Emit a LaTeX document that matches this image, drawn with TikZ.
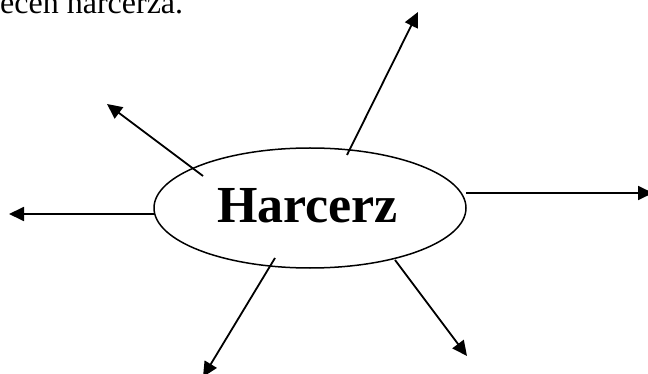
\documentclass[tikz,border=0pt]{standalone}
\usepackage{fontspec}
\setmainfont{Liberation Serif}
\usetikzlibrary{arrows.meta,shapes.geometric}
\tikzset{
  arr/.style={line width=1.8pt,-{Triangle[length=15pt,width=14pt]}},
  bubble/.style={draw,ellipse,line width=1.5pt,minimum width=312pt,minimum height=120pt,inner sep=0pt}
}
\begin{document}
\begin{tikzpicture}[x=1pt,y=-1pt]
\useasboundingbox (0,0) rectangle (648,374);
\node[bubble] (h) at (310,208) {};
\node[anchor=base,inner sep=0pt,font=\fontsize{52}{60}\selectfont\bfseries] (t) at (307.5,223) {Harcerz};
\node[anchor=base west,inner sep=0pt,font=\fontsize{32}{38}\selectfont] (top) at (0,14) {ecen harcerza.};
\coordinate (s1) at (203,176); \coordinate (e1) at (107,104);
\coordinate (s2) at (347,155); \coordinate (e2) at (418,12);
\coordinate (s3) at (466,193); \coordinate (e3) at (653,193);
\coordinate (s4) at (154,214); \coordinate (e4) at (9,214);
\coordinate (s5) at (275,258); \coordinate (e5) at (203,377);
\coordinate (s6) at (395,260); \coordinate (e6) at (467,356);
\draw[arr] (s1) -- (e1);
\draw[arr] (s2) -- (e2);
\draw[arr] (s3) -- (e3);
\draw[arr] (s4) -- (e4);
\draw[arr] (s5) -- (e5);
\draw[arr] (s6) -- (e6);
\end{tikzpicture}
\end{document}
